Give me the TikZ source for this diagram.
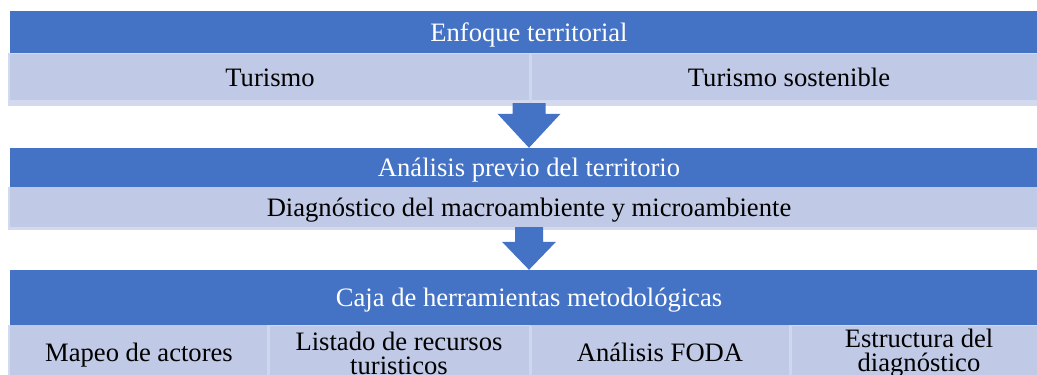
\documentclass[tikz,border=0pt]{standalone}
\usepackage{fontspec}
\setmainfont{Liberation Serif}
\usetikzlibrary{calc}
\definecolor{barblue}{HTML}{4472C4}
\definecolor{cellfill}{HTML}{C0C9E5}
\definecolor{fondofill}{HTML}{D3D9EE}
\definecolor{divcolor}{HTML}{D0D6EC}
\tikzset{
  bar/.style={fill=barblue, text=white, inner sep=0pt, text height=18.5pt, text depth=0pt},
  cell/.style={fill=cellfill, inner sep=0pt, text height=18.5pt, text depth=0pt},
  cell2/.style={fill=cellfill, inner sep=0pt, align=center},
  fondo/.style={fill=fondofill, inner sep=0pt},
  divider/.style={divcolor, line width=3pt}
}

\begin{document}
\begin{tikzpicture}[x=1pt, y=-1pt, font=\fontsize{26.6}{24}\selectfont]
  \useasboundingbox[fill=white] (0,0) rectangle (1037,375);
  % primer bloque
  \node[bar, minimum width=1038pt, minimum height=42pt] (enfoque) at (529,32) {Enfoque territorial};
  \node[fondo, minimum width=1040pt, minimum height=53pt] (fondoA) at (528,79.5) {};
  \node[cell, minimum width=520pt, minimum height=46pt] (turismo) at (270,77) {Turismo};
  \node[cell, minimum width=518pt, minimum height=46pt] (sostenible) at (789,77) {Turismo sostenible};
  \draw[divider] (turismo.north east) -- (turismo.south east |- fondoA.south);
  % segundo bloque
  \node[bar, minimum width=1038pt, minimum height=39pt] (analisis) at (529,167.5) {Análisis previo del territorio};
  \node[fondo, minimum width=1040pt, minimum height=43pt] (fondoB) at (528,208.5) {};
  \node[cell, minimum width=1038pt, minimum height=40pt] (diagnostico) at (529,207) {Diagnóstico del macroambiente y microambiente};
  % tercer bloque
  \node[bar, minimum width=1038pt, minimum height=55pt] (caja) at (529,297.5) {Caja de herramientas metodológicas};
  \node[fondo, minimum width=1040pt, minimum height=54pt] (fondoC) at (528,352) {};
  \node[cell, minimum width=258pt, minimum height=54pt] (mapeo) at (139,352) {Mapeo de actores};
  \node[cell2, minimum width=262pt, minimum height=54pt] (listado) at (399,353) {Listado de recursos\\turisticos};
  \node[cell, minimum width=260pt, minimum height=54pt] (foda) at (660,352) {Análisis FODA};
  \node[cell2, minimum width=258pt, minimum height=54pt] (estructura) at (919,353) {Estructura del\\diagnóstico};
  \draw[divider] (mapeo.north east) -- (mapeo.south east);
  \draw[divider] (listado.north east) -- (listado.south east);
  \draw[divider] (foda.north east) -- (foda.south east);
  % flechas
  \fill[barblue] ($(fondoA.south -| enfoque.south)+(-16.5,-3)$) -- ($(fondoA.south -| enfoque.south)+(16.5,-3)$)
    -- ($(analisis.north)+(16.5,-34)$) -- ($(analisis.north)+(31.5,-34)$) -- (analisis.north)
    -- ($(analisis.north)+(-31.5,-34)$) -- ($(analisis.north)+(-16.5,-34)$) -- cycle;
  \fill[barblue] ($(fondoB.south -| analisis.south)+(-14,-3)$) -- ($(fondoB.south -| analisis.south)+(14,-3)$)
    -- ($(caja.north)+(14,-28)$) -- ($(caja.north)+(27,-28)$) -- (caja.north)
    -- ($(caja.north)+(-27,-28)$) -- ($(caja.north)+(-14,-28)$) -- cycle;
\end{tikzpicture}
\end{document}
